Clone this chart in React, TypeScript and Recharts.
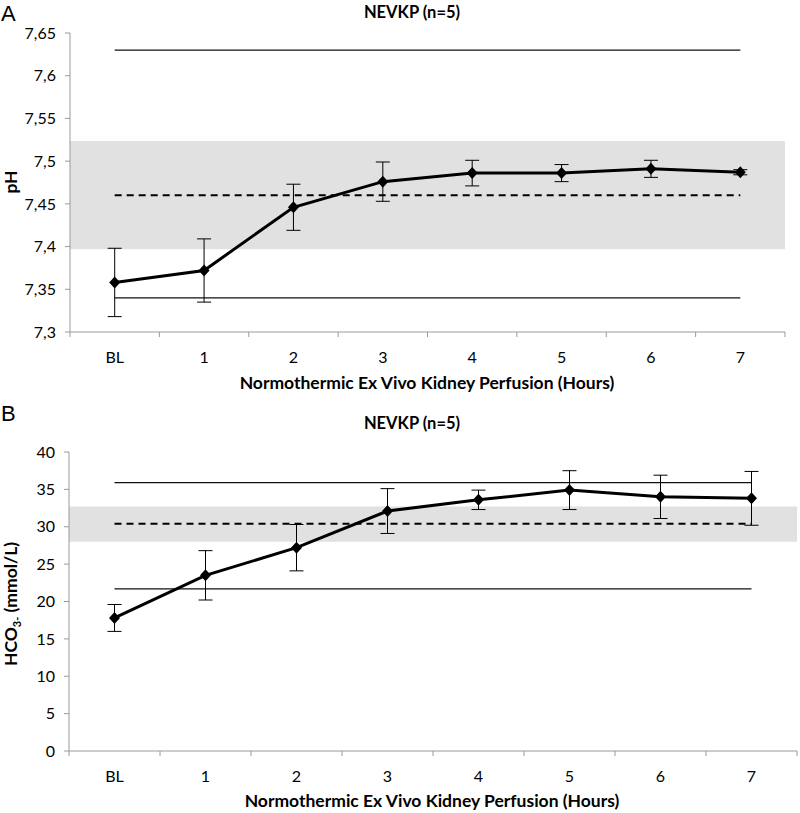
import React from "react";
import {
    ComposedChart,
    Line,
    XAxis,
    YAxis,
    ReferenceArea,
    ErrorBar,
} from "recharts";

// perfusion time points
const hours = ["BL", "1", "2", "3", "4", "5", "6", "7"];

// pH (mean, sd)
const phMean = [7.358, 7.372, 7.446, 7.476, 7.486, 7.486, 7.491, 7.487];
const phSd = [0.04, 0.037, 0.027, 0.023, 0.015, 0.01, 0.01, 0.003];
const phTicks = [7.3, 7.35, 7.4, 7.45, 7.5, 7.55, 7.6, 7.65];
const phUpper = 7.63;
const phLower = 7.34;
const phNormal = 7.46;
const phBand = [7.397, 7.5235];

// HCO3- (mean, sd)
const hcoMean = [17.8, 23.5, 27.2, 32.1, 33.6, 34.9, 34.0, 33.8];
const hcoSd = [1.8, 3.3, 3.1, 3.0, 1.3, 2.6, 2.9, 3.6];
const hcoTicks = [0, 5, 10, 15, 20, 25, 30, 35, 40];
const hcoUpper = 35.9;
const hcoLower = 21.7;
const hcoNormal = 30.4;
const hcoBand = [28.0, 32.7];

const phData = hours.map((h, i) => ({
    name: h,
    mean: phMean[i],
    err: phSd[i],
    upper: phUpper,
    lower: phLower,
    normal: phNormal,
}));

const hcoData = hours.map((h, i) => ({
    name: h,
    mean: hcoMean[i],
    err: hcoSd[i],
    upper: hcoUpper,
    lower: hcoLower,
    normal: hcoNormal,
}));

const tickFont = { fontFamily: "Lato", fontSize: 16, fill: "#000" };
const axisGrey = "#9a9a9a";

const Diamond = (props: any) => {
    const { cx, cy, index } = props;
    if (cx == null || cy == null) return <g key={index} />;
    return (
        <polygon
            key={index}
            points={`${cx},${cy - 6} ${cx + 5.5},${cy} ${cx},${cy + 6} ${cx - 5.5},${cy}`}
            fill="#000"
        />
    );
};

// excel style ticks: marks sit between categories, labels in the middle
const makeXTick = (axisY: number, band: number) => (props: any) => {
    const { x, payload, index } = props;
    return (
        <g>
            <line x1={x - band / 2} x2={x - band / 2} y1={axisY} y2={axisY + 5} stroke={axisGrey} />
            {index === hours.length - 1 && (
                <line x1={x + band / 2} x2={x + band / 2} y1={axisY} y2={axisY + 5} stroke={axisGrey} />
            )}
            <text x={x} y={axisY + 25} dy="0.35em" textAnchor="middle" {...tickFont}>
                {payload.value}
            </text>
        </g>
    );
};

interface PanelProps {
    data: any[];
    width: number;
    height: number;
    top: number;
    right: number;
    xHeight: number;
    yWidth: number;
    domain: [number, number];
    ticks: number[];
    band: number[];
    fmt: (v: number) => string;
}

const Panel: React.FC<PanelProps> = ({ data, width, height, top, right, xHeight, yWidth, domain, ticks, band, fmt }) => {
    const plotW = width - right - yWidth;
    const axisY = height - xHeight;
    return (
        <ComposedChart width={width} height={height} data={data} margin={{ top, right, bottom: 0, left: 0 }}>
            <XAxis
                dataKey="name"
                scale="band"
                height={xHeight}
                stroke={axisGrey}
                tickLine={false}
                interval={0}
                tick={makeXTick(axisY, plotW / hours.length)}
            />
            <YAxis
                type="number"
                domain={domain}
                ticks={ticks}
                width={yWidth}
                stroke={axisGrey}
                tickSize={5}
                tickMargin={9}
                tick={tickFont}
                tickFormatter={fmt}
                allowDataOverflow
            />
            <ReferenceArea y1={band[0]} y2={band[1]} fill="#e1e1e1" fillOpacity={1} stroke="none" />
            <Line dataKey="upper" stroke="#111" strokeWidth={1.3} dot={false} isAnimationActive={false} />
            <Line dataKey="lower" stroke="#111" strokeWidth={1.3} dot={false} isAnimationActive={false} />
            <Line
                dataKey="normal"
                stroke="#000"
                strokeWidth={2}
                strokeDasharray="7 5"
                dot={false}
                isAnimationActive={false}
            />
            <Line
                dataKey="mean"
                stroke="#000"
                strokeWidth={3}
                dot={Diamond}
                isAnimationActive={false}
            >
                <ErrorBar dataKey="err" width={7} stroke="#000" strokeWidth={1} direction="y" />
            </Line>
        </ComposedChart>
    );
};

const titleText = { fontFamily: "Lato", fontWeight: 700, fontSize: 16.5, fill: "#000" };
const axisText = { fontFamily: "Lato", fontWeight: 700, fontSize: 17.5, fill: "#000" };

export default function App() {
    return (
        <div style={{ position: "absolute", left: 0, top: 0, width: 800, height: 813, background: "#fff" }}>
            <div style={{ position: "absolute", left: 0, top: 0 }}>
                <Panel
                    data={phData}
                    width={800}
                    height={400}
                    top={33}
                    right={15}
                    xHeight={68}
                    yWidth={70}
                    domain={[7.3, 7.65]}
                    ticks={phTicks}
                    band={phBand}
                    fmt={(v) => String(v).replace(".", ",")}
                />
            </div>
            <div style={{ position: "absolute", left: 0, top: 400 }}>
                <Panel
                    data={hcoData}
                    width={800}
                    height={413}
                    top={52}
                    right={3}
                    xHeight={62}
                    yWidth={69}
                    domain={[0, 40]}
                    ticks={hcoTicks}
                    band={hcoBand}
                    fmt={(v) => String(v)}
                />
            </div>
            <svg
                width={800}
                height={813}
                style={{ position: "absolute", left: 0, top: 0, pointerEvents: "none" }}
            >
                <text x={1} y={21} fontFamily="Liberation Sans" fontSize={22} fill="#000">A</text>
                <text x={412} y={18} textAnchor="middle" {...titleText}>NEVKP (n=5)</text>
                <text x={17} y={182} textAnchor="middle" transform="rotate(-90 17 182)" {...axisText}>pH</text>
                <text x={427} y={389} textAnchor="middle" {...axisText}>
                    Normothermic Ex Vivo Kidney Perfusion (Hours)
                </text>

                <text x={1} y={421} fontFamily="Liberation Sans" fontSize={22} fill="#000">B</text>
                <text x={412} y={429} textAnchor="middle" {...titleText}>NEVKP (n=5)</text>
                <text x={17} y={604} textAnchor="middle" transform="rotate(-90 17 604)" {...axisText}>
                    HCO
                    <tspan fontSize={11} dy={4}>3</tspan>
                    <tspan fontSize={11}>-</tspan>
                    <tspan dy={-4}> (mmol/L)</tspan>
                </text>
                <text x={432} y={807} textAnchor="middle" {...axisText}>
                    Normothermic Ex Vivo Kidney Perfusion (Hours)
                </text>
            </svg>
        </div>
    );
}
